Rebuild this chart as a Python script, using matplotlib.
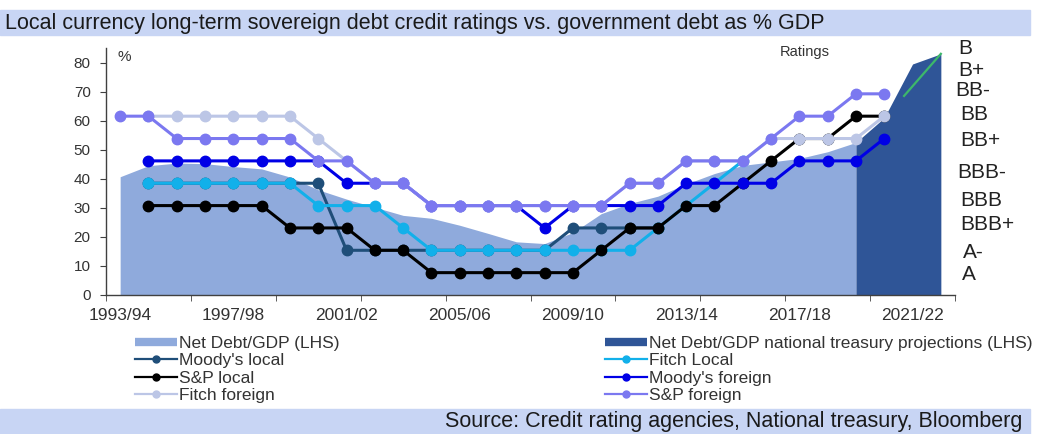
import matplotlib
matplotlib.use('Agg')
import matplotlib.pyplot as plt
from matplotlib.lines import Line2D
from matplotlib.patches import Rectangle
import numpy as np

plt.rcParams['font.family'] = ['Liberation Sans', 'DejaVu Sans']

nan = np.nan

# ---------------- data ----------------
fiscal_years = ['1993/94', '1994/95', '1995/96', '1996/97', '1997/98', '1998/99',
                '1999/00', '2000/01', '2001/02', '2002/03', '2003/04', '2004/05',
                '2005/06', '2006/07', '2007/08', '2008/09', '2009/10', '2010/11',
                '2011/12', '2012/13', '2013/14', '2014/15', '2015/16', '2016/17',
                '2017/18', '2018/19', '2019/20', '2020/21', '2021/22', '2022/23']

# Net debt / GDP (%), actual: 1993/94 .. 2019/20
net_debt = [40.7, 44.5, 45.4, 45.2, 44.2, 43.4, 40.6, 36.2, 33.0, 30.2, 27.4, 26.4,
            24.0, 21.2, 18.3, 17.7, 21.5, 28.0, 31.5, 34.0, 38.2, 41.8, 44.6, 45.8,
            47.0, 49.3, 52.5]
# Net debt / GDP (%), national treasury projections: 2019/20 .. 2022/23
net_debt_proj = [52.5, 61.0, 79.5, 83.0]
proj_start = 26

# green trend stroke on the projection area
trend_x = [27.7, 29.0]
trend_y = [68.5, 83.0]

# ratings as notch levels (1 = A+ ... 9 = BB-), 1993/94 .. 2020/21
moodys_local   = [nan, 5, 5, 5, 5, 5, 5, 5, 2, 2, 2, 2, 2, 2, 2, 2, 3, 3, 3, 3]
fitch_local    = [nan, 5, 5, 5, 5, 5, 5, 4, 4, 4, 3, 2, 2, 2, 2, 2, 2, 2, 2, 3, 4, 5, 6]
sp_local       = [nan, 4, 4, 4, 4, 4, 3, 3, 3, 2, 2, 1, 1, 1, 1, 1, 1, 2, 3, 3, 4, 4, 5, 6, 7, 7, 8, 8]
moodys_foreign = [nan, 6, 6, 6, 6, 6, 6, 6, 5, 5, 5, 4, 4, 4, 4, 3, 4, 4, 4, 4, 5, 5, 5, 5, 6, 6, 6, 7]
fitch_foreign  = [nan, 8, 8, 8, 8, 8, 8, 7, 6, 5, 5, 4, 4, 4, 4, 4, 4, 4, 5, 5, 6, 6, 6, 7, 7, 7, 7, 8]
sp_foreign     = [8, 8, 7, 7, 7, 7, 7, 6, 6, 5, 5, 4, 4, 4, 4, 4, 4, 4, 5, 5, 6, 6, 6, 7, 8, 8, 9, 9]
notch = 100.0 / 13.0   # % axis units per rating notch

rating_labels = ['B', 'B+', 'BB-', 'BB', 'BB+', 'BBB-', 'BBB', 'BBB+', 'A-', 'A']

# ---------------- layout ----------------
W, H = 1047, 434
def fx(px): return px / W
def fy(py): return 1 - py / H

fig = plt.figure(figsize=(W / 100, H / 100), dpi=100)
ax = fig.add_axes([fx(106), fy(295), fx(955) - fx(106), fy(48) - fy(295)])

c_area = '#8FAADC'
c_proj = '#2F5597'
c_mloc = '#1F4E79'
c_floc = '#12B0EA'
c_sloc = '#000000'
c_mfor = '#0000E6'
c_ffor = '#BCC6E6'
c_sfor = '#7B78F0'

x_all = np.arange(len(fiscal_years))
x_act = x_all[:len(net_debt)]
x_proj = x_all[proj_start:proj_start + len(net_debt_proj)]

ax.fill_between(x_act, 0, net_debt, color=c_area, lw=0, zorder=1)
ax.fill_between(x_proj, 0, net_debt_proj, color=c_proj, lw=0, zorder=2)
ax.plot(trend_x, trend_y, color='#3DB86A', lw=1.6, zorder=3)

series = [
    ("Moody's local", moodys_local, c_mloc),
    ("Fitch Local", fitch_local, c_floc),
    ("S&P local", sp_local, c_sloc),
    ("Moody's foreign", moodys_foreign, c_mfor),
    ("Fitch foreign", fitch_foreign, c_ffor),
    ("S&P foreign", sp_foreign, c_sfor),
]
for i, (name, vals, col) in enumerate(series):
    v = np.array(vals, dtype=float) * notch
    ax.plot(x_all[:len(v)], v, color=col, lw=2.2, marker='o', ms=7.5,
            mec=col, mfc=col, zorder=4 + i)

ax.set_xlim(-0.5, len(fiscal_years) - 0.5)
ax.set_ylim(0, 85)
ax.set_yticks(range(0, 81, 10))
ax.set_xticks(x_all[::4])
ax.set_xticklabels(fiscal_years[::4])
ax.set_xticks(np.arange(-0.5, len(fiscal_years), 3), minor=True)
ax.tick_params(axis='x', which='major', length=0, pad=9, labelsize=12.5, labelcolor='#333333')
ax.tick_params(axis='x', which='minor', length=4, color='#404040', direction='out')
ax.tick_params(axis='y', length=4, color='#404040', direction='out', labelsize=11,
               labelcolor='#333333', pad=7)
for s in ['top', 'right']:
    ax.spines[s].set_visible(False)
for s in ['left', 'bottom']:
    ax.spines[s].set_color('#404040')
    ax.spines[s].set_linewidth(1.0)

# annotations
fig.text(fx(117), fy(57), '%', fontsize=11, color='#333333', va='center', ha='left')
fig.text(fx(780), fy(52), 'Ratings', fontsize=10.5, color='#333333', va='center', ha='left')
label_px = [(958, 48), (958, 70), (955, 90), (960, 115), (960, 140), (957, 172),
            (960, 200), (960, 225), (963, 252), (962, 275)]
for lab, (px, py) in zip(rating_labels, label_px):
    fig.text(fx(px), fy(py), lab, fontsize=15, color='#222222', va='center', ha='left')

# title and source bands
fig.patches.append(Rectangle((0, fy(35)), fx(1030), fy(10) - fy(35), transform=fig.transFigure,
                             color='#C8D5F4', zorder=0))
fig.text(fx(5), fy(23), 'Local currency long-term sovereign debt credit ratings vs. government debt as % GDP',
         fontsize=15.5, color='#1a1a1a', va='center', ha='left')
fig.patches.append(Rectangle((0, 0), fx(1030), fy(409), transform=fig.transFigure,
                             color='#C8D5F4', zorder=0))
fig.text(fx(1022), fy(422), 'Source: Credit rating agencies, National treasury, Bloomberg',
         fontsize=15.5, color='#1a1a1a', va='center', ha='right')

# legends
def line_handle(col):
    return Line2D([], [], color=col, lw=1.6, marker='o', ms=5, mec=col, mfc=col)
def bar_handle(col):
    return Line2D([], [], color=col, lw=6, solid_capstyle='butt')

left_h = [bar_handle(c_area), line_handle(c_mloc), line_handle(c_sloc), line_handle(c_ffor)]
left_l = ['Net Debt/GDP (LHS)', "Moody's local", 'S&P local', 'Fitch foreign']
right_h = [bar_handle(c_proj), line_handle(c_floc), line_handle(c_mfor), line_handle(c_sfor)]
right_l = ['Net Debt/GDP national treasury projections (LHS)', 'Fitch Local', "Moody's foreign", 'S&P foreign']

kw = dict(loc='upper left', frameon=False, fontsize=12.5, handlelength=2.4,
          handletextpad=0.15, labelspacing=0.12, borderpad=0, borderaxespad=0,
          labelcolor='#333333')
fig.legend(left_h, left_l, bbox_to_anchor=(fx(135), fy(336)), **kw)
fig.legend(right_h, right_l, bbox_to_anchor=(fx(605), fy(336)), **kw)

fig.savefig('out.png', dpi=100)
